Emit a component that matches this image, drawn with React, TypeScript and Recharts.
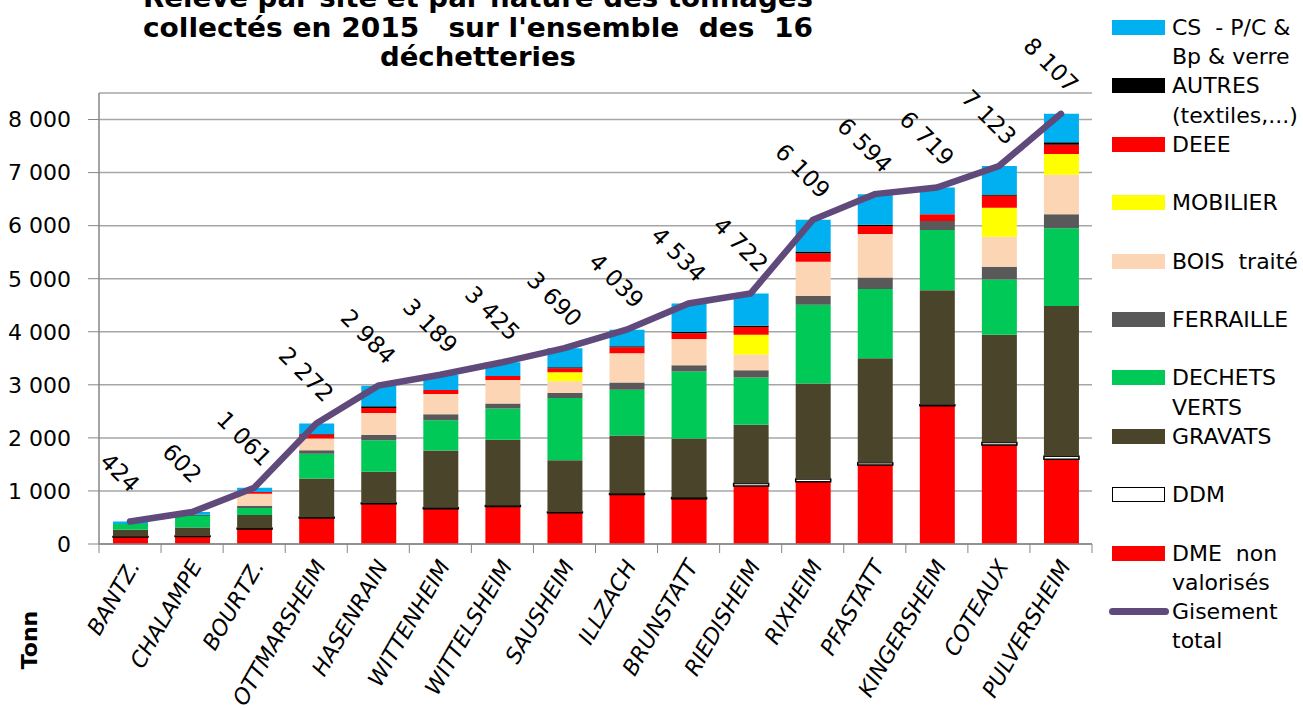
import { ComposedChart, Bar, Line, XAxis, YAxis, CartesianGrid, LabelList } from 'recharts'

const sites = [
  'BANTZ.', 'CHALAMPE', 'BOURTZ.', 'OTTMARSHEIM', 'HASENRAIN', 'WITTENHEIM', 'WITTELSHEIM', 'SAUSHEIM',
  'ILLZACH', 'BRUNSTATT', 'RIEDISHEIM', 'RIXHEIM', 'PFASTATT', 'KINGERSHEIM', 'COTEAUX', 'PULVERSHEIM',
]

// tonnages par nature (du bas vers le haut de la pile)
const dme = [130, 140, 285, 490, 760, 665, 709, 589, 934, 852, 1092, 1173, 1489, 2606, 1867, 1596]
const ddm = [10, 10, 12, 15, 15, 20, 15, 15, 20, 25, 50, 50, 44, 19, 44, 57]
const gravats = [130, 160, 250, 730, 585, 1076, 1240, 975, 1092, 1111, 1105, 1804, 1968, 2158, 2032, 2833]
const dechetsVerts = [105, 225, 130, 465, 595, 570, 589, 1171, 859, 1263, 890, 1483, 1306, 1136, 1041, 1464]
const ferraille = [0, 0, 45, 69, 100, 114, 95, 95, 139, 120, 139, 164, 215, 170, 240, 265]
const bois = [0, 0, 225, 220, 415, 380, 443, 222, 549, 492, 297, 644, 820, 0, 568, 744]
const mobilier = [0, 0, 0, 0, 0, 0, 0, 171, 0, 0, 372, 0, 0, 0, 543, 391]
const deee = [0, 0, 32, 75, 95, 76, 76, 76, 114, 107, 145, 158, 151, 126, 227, 177]
const autres = [0, 15, 0, 10, 30, 0, 0, 19, 19, 25, 25, 38, 25, 0, 25, 44]
const cs = [49, 52, 82, 198, 389, 288, 258, 357, 313, 539, 607, 595, 576, 504, 536, 536]
const gisement = [424, 602, 1061, 2272, 2984, 3189, 3425, 3690, 4039, 4534, 4722, 6109, 6594, 6719, 7123, 8107]

const yTicks = [0, 1000, 2000, 3000, 4000, 5000, 6000, 7000, 8000]

const titleLines = [
  'Relevé par site et par nature des tonnages',
  "collectés en 2015   sur l'ensemble  des  16",
  'déchetteries',
]

const FONT = '"DejaVu Sans", Verdana, sans-serif'
const PLOT_W = 993
const CAT_W = PLOT_W / sites.length

const data = sites.map((site, i) => ({
  site,
  dme: dme[i],
  ddm: ddm[i],
  gravats: gravats[i],
  dechetsVerts: dechetsVerts[i],
  ferraille: ferraille[i],
  bois: bois[i],
  mobilier: mobilier[i],
  deee: deee[i],
  autres: autres[i],
  cs: cs[i],
  total: gisement[i],
}))

// ordre de la pile, du bas vers le haut
const stack = [
  { key: 'dme', fill: '#ff0000' },
  { key: 'ddm', fill: '#ffffff', stroke: '#000000' },
  { key: 'gravats', fill: '#4a452a' },
  { key: 'dechetsVerts', fill: '#00c957' },
  { key: 'ferraille', fill: '#595959' },
  { key: 'bois', fill: '#fcd5b5' },
  { key: 'mobilier', fill: '#ffff00' },
  { key: 'deee', fill: '#ff0000' },
  { key: 'autres', fill: '#000000' },
  { key: 'cs', fill: '#00b0f0' },
]

const legendItems = [
  { lines: ['CS  - P/C &', 'Bp & verre'], fill: '#00b0f0' },
  { lines: ['AUTRES', '(textiles,...)'], fill: '#000000' },
  { lines: ['DEEE'], fill: '#ff0000' },
  { lines: ['MOBILIER'], fill: '#ffff00' },
  { lines: ['BOIS  traité'], fill: '#fcd5b5' },
  { lines: ['FERRAILLE'], fill: '#595959' },
  { lines: ['DECHETS', 'VERTS'], fill: '#00c957' },
  { lines: ['GRAVATS'], fill: '#4a452a' },
  { lines: ['DDM'], fill: '#ffffff', border: true },
  { lines: ['DME  non', 'valorisés'], fill: '#ff0000' },
  { lines: ['Gisement', 'total'], fill: '#604a7b', line: true },
]

const fmt = (n: number) => String(n).replace(/\B(?=(\d{3})+(?!\d))/g, ' ')

function TotalLabel(props: any) {
  const { x, y, value } = props
  const cx = x - 10
  const cy = y - 49
  return (
    <text
      x={cx}
      y={cy}
      transform={`rotate(45 ${cx} ${cy})`}
      textAnchor="middle"
      dominantBaseline="central"
      fontSize={23}
      fontFamily={FONT}
      fill="#000"
    >
      {fmt(value)}
    </text>
  )
}

function SiteTick(props: any) {
  const { x, y, payload, index } = props
  const top = y - 10
  const tx = x + 4
  const ty = y + 8
  return (
    <g>
      <line x1={x - CAT_W / 2} x2={x - CAT_W / 2} y1={top} y2={top + 9} stroke="#868686" />
      {index === sites.length - 1 && (
        <line x1={x + CAT_W / 2} x2={x + CAT_W / 2} y1={top} y2={top + 9} stroke="#868686" />
      )}
      <text
        x={tx}
        y={ty}
        transform={`rotate(-60 ${tx} ${ty})`}
        textAnchor="end"
        dominantBaseline="central"
        fontSize={22}
        fontStyle="italic"
        fontFamily={FONT}
        fill="#000"
      >
        {payload.value}
      </text>
    </g>
  )
}

function ChartLegend() {
  return (
    <div style={{ position: 'absolute', left: 1106, top: 13, width: 197, fontFamily: FONT, fontSize: 22 }}>
      {legendItems.map((it, i) => (
        <div key={i} style={{ position: 'relative', height: 58.4, lineHeight: '29.2px' }}>
          {it.line ? (
            <div style={{ position: 'absolute', left: 3, top: 11, width: 60, height: 7, borderRadius: 4, background: it.fill }} />
          ) : (
            <div
              style={{
                position: 'absolute',
                left: 6,
                top: 7,
                width: 53,
                height: 15,
                boxSizing: 'border-box',
                background: it.fill,
                border: it.border ? '1.5px solid #000' : 'none',
              }}
            />
          )}
          <div style={{ position: 'absolute', left: 66, top: 0, whiteSpace: 'pre', color: '#000' }}>
            {it.lines.map((l, j) => (
              <div key={j}>{l}</div>
            ))}
          </div>
        </div>
      ))}
    </div>
  )
}

export default function App() {
  return (
    <div style={{ position: 'absolute', left: 0, top: 0, width: 1303, height: 709, background: '#fff', overflow: 'hidden' }}>
      <ComposedChart
        width={1303}
        height={709}
        data={data}
        margin={{ top: 93, right: 211, bottom: 15, left: 0 }}
        barSize={35}
      >
        <CartesianGrid vertical={false} stroke="#a6a6a6" strokeWidth={1.5} />
        <XAxis
          dataKey="site"
          interval={0}
          height={150}
          tickLine={false}
          tickSize={10}
          tickMargin={0}
          axisLine={{ stroke: '#868686', strokeWidth: 1.5 }}
          tick={<SiteTick />}
        />
        <YAxis
          width={99}
          domain={[0, 8500]}
          ticks={yTicks}
          tickFormatter={fmt}
          tickSize={11}
          tickMargin={17}
          axisLine={{ stroke: '#868686', strokeWidth: 1.5 }}
          tickLine={{ stroke: '#868686' }}
          tick={{ fontSize: 22, fontFamily: FONT, fill: '#000' }}
        />
        {stack.map((s) => (
          <Bar
            key={s.key}
            dataKey={s.key}
            stackId="a"
            fill={s.fill}
            stroke={s.stroke}
            strokeWidth={s.stroke ? 1.5 : 0}
            isAnimationActive={false}
          />
        ))}
        <Line
          type="linear"
          dataKey="total"
          stroke="#604a7b"
          strokeWidth={6.5}
          strokeLinecap="round"
          dot={false}
          activeDot={false}
          isAnimationActive={false}
        >
          <LabelList dataKey="total" content={TotalLabel} />
        </Line>
      </ComposedChart>

      <svg width={1303} height={90} style={{ position: 'absolute', left: 0, top: 0, pointerEvents: 'none' }}>
        {titleLines.map((t, i) => (
          <text
            key={i}
            x={478}
            y={7 + i * 29.5}
            textAnchor="middle"
            fontFamily={FONT}
            fontWeight="bold"
            fontSize={27}
            fill="#000"
            textLength={i === 2 ? 196 : 670}
            lengthAdjust="spacingAndGlyphs"
            style={{ whiteSpace: 'pre' }}
          >
            {t}
          </text>
        ))}
      </svg>

      <div
        style={{
          position: 'absolute',
          left: 29,
          top: 640,
          transform: 'translate(-50%, -50%) rotate(-90deg)',
          fontFamily: FONT,
          fontWeight: 'bold',
          fontSize: 22,
          whiteSpace: 'nowrap',
        }}
      >
        Tonn
      </div>

      <ChartLegend />
    </div>
  )
}
